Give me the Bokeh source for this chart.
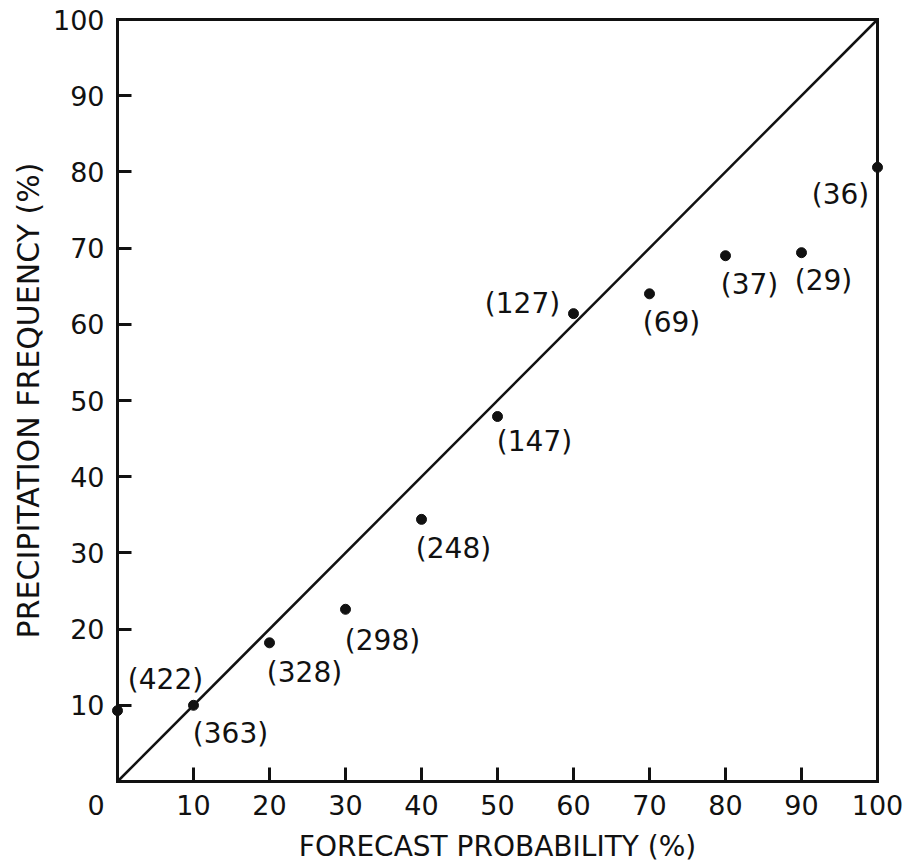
from bokeh.plotting import figure
from bokeh.models import Range1d, FixedTicker, ColumnDataSource, LabelSet, LinearAxis, Label
from bokeh.core.properties import value
from bokeh.embed import file_html
from bokeh.resources import INLINE

# Data
forecast_prob = [0, 10, 20, 30, 40, 50, 60, 70, 80, 90, 100]
precip_freq = [9.3, 10.0, 18.2, 22.6, 34.4, 47.9, 61.4, 64.0, 69.0, 69.4, 80.6]
case_counts = ["(422)", "(363)", "(328)", "(298)", "(248)", "(147)", "(127)", "(69)", "(37)", "(29)", "(36)"]
x_ticks = [0, 10, 20, 30, 40, 50, 60, 70, 80, 90, 100]
y_ticks = [10, 20, 30, 40, 50, 60, 70, 80, 90, 100]
diagonal = [0, 100]
x_title = "FORECAST PROBABILITY (%)"
y_title = "PRECIPITATION FREQUENCY (%)"

# label placement (screen pixel offsets from each point)
label_dx = [48, 37, 35, 37, 32, 37, -51, 22, 24, 22, -37]
label_dy = [31, -28, -30, -31, -29, -25, 10, -29, -29, -28, -27]

FONT = "DejaVu Sans"
INK = "#111111"

# Layout: the plotting box (0..100 on both axes) spans pixels 117..877 horizontally
# and 19..781 vertically; the frame covers the whole canvas so all texts live in it.
W, H = 909, 863
BOX_L, BOX_R, BOX_T, BOX_B = 117, 877, 19, 781
sx = (BOX_R - BOX_L) / 100.0
sy = (BOX_B - BOX_T) / 100.0
x_range = Range1d(-BOX_L / sx, 100 + (W - BOX_R) / sx)
y_range = Range1d(-(H - BOX_B) / sy, 100 + BOX_T / sy)

p = figure(width=W, height=H, output_backend="svg", toolbar_location=None,
           x_range=x_range, y_range=y_range,
           x_axis_location=None, y_axis_location=None,
           min_border_left=0, min_border_right=0, min_border_top=0, min_border_bottom=0)
p.grid.visible = False
p.background_fill_color = "white"
p.border_fill_color = "white"
p.outline_line_color = None


def edge_axis(loc, ticks, labelled):
    ax = LinearAxis(fixed_location=loc, bounds=(0, 100), ticker=FixedTicker(ticks=ticks),
                    axis_line_color=INK, axis_line_width=3, axis_line_cap="square",
                    major_tick_line_color=INK, major_tick_line_width=3,
                    major_tick_in=14, major_tick_out=0,
                    minor_tick_line_color=None,
                    major_label_text_font=FONT, major_label_text_font_size="27px",
                    major_label_text_color=INK)
    if not labelled:
        ax.major_label_text_font_size = "0px"
        ax.major_label_text_color = None
    return ax


# the box: left and bottom edges carry the inward ticks and the tick labels
left_ax = edge_axis(0, y_ticks, True)
left_ax.major_label_standoff = 13
bottom_ax = edge_axis(0, x_ticks, True)
bottom_ax.major_label_standoff = 8
# corner "0" sits left of the origin, as in the reference
bottom_ax.major_label_overrides = {0: "0" + "\u00a0" * 5}
p.add_layout(left_ax, "left")
p.add_layout(bottom_ax, "below")
p.add_layout(edge_axis(100, [], False), "right")
p.add_layout(edge_axis(100, [], False), "above")

# axis titles
p.add_layout(Label(x=50, y=0, text=x_title, x_offset=0, y_offset=-65,
                   text_align="center", text_baseline="middle",
                   text_font=FONT, text_font_size="28px", text_color=INK))
p.add_layout(Label(x=0, y=50, text=y_title, x_offset=-89, y_offset=0,
                   angle=90, angle_units="deg",
                   text_align="center", text_baseline="middle",
                   text_font=FONT, text_font_size="30px", text_color=INK))

p.line(diagonal, diagonal, line_color=INK, line_width=2.5)

src = ColumnDataSource(dict(x=forecast_prob, y=precip_freq, t=case_counts,
                            dx=label_dx, dy=label_dy))
p.scatter("x", "y", source=src, size=10, color=INK)
p.add_layout(LabelSet(x="x", y="y", text="t", source=src, x_offset="dx", y_offset="dy",
                      text_align="center", text_baseline="middle",
                      text_font=value(FONT), text_font_size=value("28px"), text_color=INK))

open("out.html", "w").write(file_html(p, INLINE))
